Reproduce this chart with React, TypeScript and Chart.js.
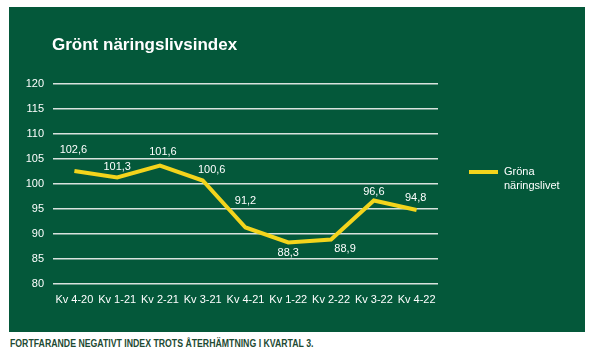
import { useEffect, useRef } from "react";
import { Chart, registerables } from "chart.js";

Chart.register(...registerables);

// ---- Data ----
const categories = ["Kv 4-20", "Kv 1-21", "Kv 2-21", "Kv 3-21", "Kv 4-21", "Kv 1-22", "Kv 2-22", "Kv 3-22", "Kv 4-22"];
const values = [102.6, 101.3, 103.7, 100.7, 91.3, 88.3, 88.9, 96.7, 94.8];
const valueLabels = ["102,6", "101,3", "101,6", "100,6", "91,2", "88,3", "88,9", "96,6", "94,8"];
const seriesName = ["Gröna", "näringslivet"];
const title = "Grönt näringslivsindex";
const caption = "FORTFARANDE NEGATIVT INDEX TROTS ÅTERHÄMTNING I KVARTAL 3.";
const yMin = 80;
const yMax = 120;
const yStep = 5;

// ---- Style ----
const GREEN = "#04583a";
const YELLOW = "#f3d41c";
const GRID = "#d9e2dd";
const FONT = "'Liberation Sans', Arial, sans-serif";
// label offsets relative to each point (dx, dy) in px
const labelOffsets: [number, number][] = [
  [-1, -21], [0, -11], [3, -14], [9, -11], [0, -27], [0, 10], [14, 9], [0, -9], [-1, -12],
];

export default function App() {
  const ref = useRef<HTMLCanvasElement | null>(null);

  useEffect(() => {
    document.body.style.margin = "0";
    const canvas = ref.current;
    if (!canvas) return;

    const extras = {
      id: "extras",
      afterDatasetsDraw(chart: any) {
        const ctx = chart.ctx;
        const meta = chart.getDatasetMeta(0);
        ctx.save();
        ctx.fillStyle = "#ffffff";
        ctx.font = `11px ${FONT}`;
        ctx.textAlign = "center";
        ctx.textBaseline = "middle";
        meta.data.forEach((pt: any, i: number) => {
          const [dx, dy] = labelOffsets[i];
          ctx.fillText(valueLabels[i], pt.x + dx, pt.y + dy);
        });
        // legend
        const ca = chart.chartArea;
        const lx = ca.right + 31;
        const ly = 165;
        ctx.strokeStyle = YELLOW;
        ctx.lineWidth = 4;
        ctx.beginPath();
        ctx.moveTo(lx, ly);
        ctx.lineTo(lx + 29, ly);
        ctx.stroke();
        ctx.textAlign = "left";
        ctx.font = `11px ${FONT}`;
        seriesName.forEach((s, i) => ctx.fillText(s, lx + 35, ly + i * 14));
        // title
        ctx.font = `600 17px ${FONT}`;
        ctx.fillText(title, 43, 38);
        ctx.restore();
      },
    };

    const chart = new Chart(canvas, {
      type: "line",
      data: {
        labels: categories,
        datasets: [
          {
            label: seriesName.join(" "),
            data: values,
            borderColor: YELLOW,
            backgroundColor: YELLOW,
            borderWidth: 4,
            pointRadius: 0,
            tension: 0,
            borderJoinStyle: "miter",
          },
        ],
      },
      options: {
        animation: false,
        responsive: false,
        maintainAspectRatio: false,
        layout: { padding: { top: 77, right: 147, bottom: 0, left: 0 } },
        plugins: { legend: { display: false }, title: { display: false }, tooltip: { enabled: false } },
        scales: {
          x: {
            offset: true,
            grid: { display: false, drawTicks: false, offset: true },
            border: { display: false },
            ticks: { color: "#ffffff", font: { family: FONT, size: 11 }, padding: 9, maxRotation: 0, autoSkip: false },
            afterFit(scale: any) {
              scale.height = 48;
            },
          },
          y: {
            min: yMin,
            max: yMax,
            grid: { color: GRID, lineWidth: 1.5, drawTicks: false },
            border: { display: false },
            ticks: { stepSize: yStep, color: "#ffffff", font: { family: FONT, size: 11 }, padding: 9 },
            afterFit(scale: any) {
              scale.width = 44;
            },
          },
        },
      },
      plugins: [extras],
    });
    return () => chart.destroy();
  }, []);

  return (
    <div style={{ position: "relative", width: 604, height: 356, background: "#ffffff", overflow: "hidden" }}>
      <div style={{ position: "absolute", left: 9, top: 7, width: 576, height: 325, background: GREEN }}>
        <canvas ref={ref} width={576} height={325} style={{ display: "block", width: 576, height: 325 }} />
      </div>
      <div
        style={{
          position: "absolute",
          left: 10,
          top: 338,
          fontFamily: "'Liberation Sans', Arial, sans-serif",
          fontWeight: 700,
          fontSize: 10,
          lineHeight: "12px",
          color: "#1d4a33",
          whiteSpace: "nowrap",
          transform: "scaleX(0.873)",
          transformOrigin: "left top",
        }}
      >
        {caption}
      </div>
    </div>
  );
}
